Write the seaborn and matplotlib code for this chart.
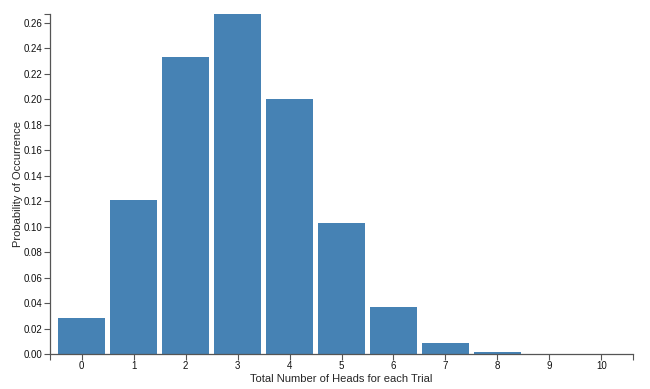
import matplotlib
matplotlib.use('Agg')
import matplotlib.pyplot as plt
import seaborn as sns
import pandas as pd

# Datos
heads = [0, 1, 2, 3, 4, 5, 6, 7, 8, 9, 10]
probability = [0.028, 0.121, 0.233, 0.267, 0.200, 0.103, 0.037, 0.009, 0.0014, 0.0001, 0.0]
y_ticks = [0.00, 0.02, 0.04, 0.06, 0.08, 0.10, 0.12, 0.14, 0.16, 0.18, 0.20, 0.22, 0.24, 0.26]

df = pd.DataFrame({'heads': heads, 'probability': probability})

sns.set_style('white')
plt.rcParams['font.family'] = ['Liberation Sans', 'DejaVu Sans']

fig = plt.figure(figsize=(6.5, 3.89), dpi=100)
ax = fig.add_axes([50.5 / 650, 35 / 389, 582 / 650, 340 / 389])

sns.barplot(data=df, x='heads', y='probability', color='#4682b4', saturation=1,
            width=0.895, edgecolor='none', ax=ax)

ax.set_xlim(-0.6, 10.6)
ax.set_ylim(0, max(probability))
ax.set_yticks(y_ticks)
ax.set_yticklabels([f'{v:.2f}' for v in y_ticks])
ax.set_xticks(range(len(heads)))
ax.set_xticklabels([str(h) for h in heads])

# ticks exteriores al estilo d3
ax.set_xticks([-0.6, 10.6], minor=True)
ax.set_yticks([max(probability)], minor=True)

for side in ['top', 'right']:
    ax.spines[side].set_visible(False)
for side in ['left', 'bottom']:
    ax.spines[side].set_color('#555555')
    ax.spines[side].set_linewidth(0.9)

ax.tick_params(axis='both', which='both', direction='out', length=4, width=0.8,
               color='#555555', labelsize=7, labelcolor='#111111', pad=2,
               left=True, bottom=True)
ax.tick_params(axis='x', which='major', pad=1)

ax.set_xlabel('Total Number of Heads for each Trial', fontsize=8, labelpad=2)
ax.set_ylabel('Probability of Occurrence', fontsize=8, labelpad=0)

fig.savefig('out.png', dpi=100)
